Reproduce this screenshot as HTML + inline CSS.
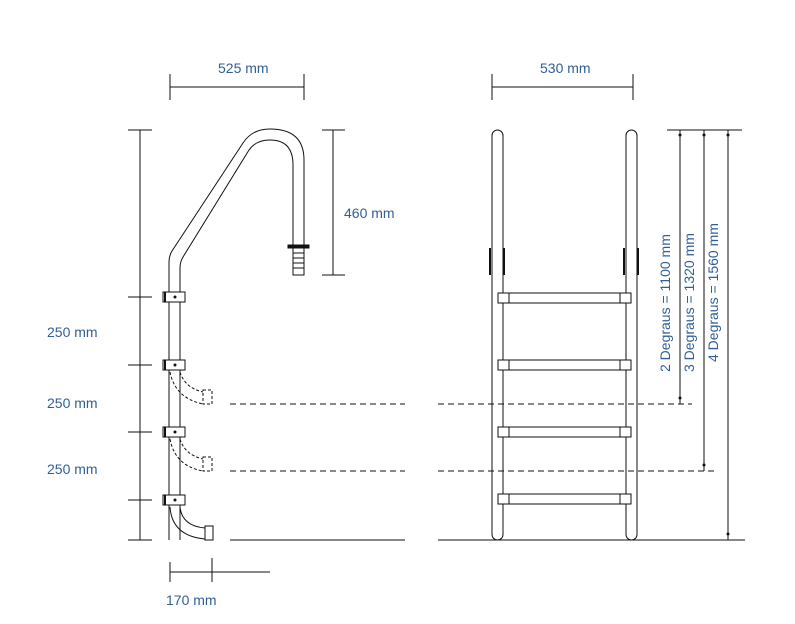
<!DOCTYPE html>
<html><head><style>
html,body{margin:0;padding:0;background:#fff;width:795px;height:624px;overflow:hidden}
svg{display:block}
text{font-family:"Liberation Sans",Arial,sans-serif;font-size:14px;fill:#2f5f96}
</style></head><body>
<svg width="795" height="624" viewBox="0 0 795 624" xmlns="http://www.w3.org/2000/svg">
<g stroke="#111" stroke-width="1" fill="none">
<!-- top dims -->
<line x1="170" y1="87" x2="304" y2="87"/><line x1="170" y1="74" x2="170" y2="100"/><line x1="304" y1="74" x2="304" y2="100"/>
<line x1="492" y1="87" x2="633" y2="87"/><line x1="492" y1="74" x2="492" y2="100"/><line x1="633" y1="74" x2="633" y2="100"/>
<!-- left vertical dim -->
<line x1="140" y1="130" x2="140" y2="540"/>
<line x1="128" y1="130" x2="152" y2="130"/><line x1="128" y1="297" x2="152" y2="297"/><line x1="128" y1="365" x2="152" y2="365"/><line x1="128" y1="432" x2="152" y2="432"/><line x1="128" y1="500" x2="152" y2="500"/><line x1="128" y1="540" x2="152" y2="540"/>
<!-- 460 dim -->
<line x1="333" y1="130" x2="333" y2="275"/><line x1="322" y1="130" x2="345" y2="130"/><line x1="322" y1="275" x2="345" y2="275"/>
<!-- handrail -->
<path d="M169 540 L169 262 Q169 256 172 251 L243 143 Q252 129 270 129 Q304 129 304 160 L304 247"/>
<path d="M180 540 L180 268 Q180 262 183 257 L249 150 Q256 140 270 140 Q293 140 293 165 L293 247"/>
<rect x="288" y="245" width="21" height="3" fill="#111"/>
<rect x="293" y="248" width="11" height="27"/>
<line x1="293" y1="253" x2="304" y2="253"/><line x1="293" y1="258" x2="304" y2="258"/><line x1="293" y1="263" x2="304" y2="263"/><line x1="293" y1="268" x2="304" y2="268"/>
<!-- brackets -->
<g fill="#fff">
<rect x="163" y="292" width="22" height="10"/><rect x="163" y="360" width="22" height="10"/><rect x="163" y="427" width="22" height="10"/><rect x="163" y="495" width="22" height="10"/>
</g>
<g fill="#111" stroke="none">
<circle cx="175" cy="297" r="1.5"/><circle cx="175" cy="365" r="1.5"/><circle cx="175" cy="432" r="1.5"/><circle cx="175" cy="500" r="1.5"/>
<rect x="164" y="292" width="2" height="10"/><rect x="164" y="360" width="2" height="10"/><rect x="164" y="427" width="2" height="10"/><rect x="164" y="495" width="2" height="10"/>
</g>
<!-- dashed steps -->
<g stroke-dasharray="3,2">
<path d="M170 372 Q175 398 203 404"/><path d="M180 372 Q185 388 203 392"/><rect x="203" y="390" width="9" height="14"/>
<path d="M170 439 Q175 466 203 471"/><path d="M180 439 Q185 455 203 459"/><rect x="203" y="457" width="9" height="14"/>
</g>
<path d="M170 507 Q172 536 205 539"/><path d="M180 507 Q182 526 205 528"/><rect x="205" y="526" width="8" height="14"/>
<!-- horizontal lines -->
<g stroke-dasharray="6,4">
<line x1="230" y1="404" x2="405" y2="404"/><line x1="438" y1="404" x2="692" y2="404"/>
<line x1="230" y1="471" x2="405" y2="471"/><line x1="438" y1="471" x2="716" y2="471"/>
</g>
<line x1="230" y1="540" x2="405" y2="540"/><line x1="438" y1="540" x2="745" y2="540"/>
<!-- 170 dim -->
<line x1="170" y1="562" x2="170" y2="582"/><line x1="212" y1="558" x2="212" y2="582"/><line x1="170" y1="572" x2="270" y2="572"/>
<!-- right view rails -->
<rect x="492" y="130" width="11" height="410" rx="5.5"/>
<rect x="626" y="130" width="11" height="410" rx="5.5"/>
<g stroke-width="2"><line x1="490" y1="248" x2="490" y2="275"/><line x1="504" y1="248" x2="504" y2="275"/><line x1="624" y1="248" x2="624" y2="275"/><line x1="638" y1="248" x2="638" y2="275"/></g>
<!-- steps -->
<g fill="#fff">
<rect x="498" y="293" width="133" height="10"/><rect x="498" y="360" width="133" height="10"/><rect x="498" y="427" width="133" height="10"/><rect x="498" y="494" width="133" height="10"/>
</g>
<line x1="509" y1="293" x2="509" y2="303"/><line x1="620" y1="293" x2="620" y2="303"/>
<line x1="509" y1="360" x2="509" y2="370"/><line x1="620" y1="360" x2="620" y2="370"/>
<line x1="509" y1="427" x2="509" y2="437"/><line x1="620" y1="427" x2="620" y2="437"/>
<line x1="509" y1="494" x2="509" y2="504"/><line x1="620" y1="494" x2="620" y2="504"/>
<!-- right dims -->
<line x1="667" y1="130" x2="742" y2="130"/>
<line x1="680" y1="130" x2="680" y2="404"/><line x1="704" y1="130" x2="704" y2="471"/><line x1="728" y1="130" x2="728" y2="540"/>
</g>
<g fill="#111">
<circle cx="680" cy="135" r="1.5"/><circle cx="704" cy="135" r="1.5"/><circle cx="728" cy="135" r="1.5"/>
<circle cx="680" cy="398" r="1.5"/><circle cx="704" cy="465" r="1.5"/><circle cx="728" cy="534" r="1.5"/>
</g>
<text x="218" y="73">525 mm</text>
<text x="540" y="73">530 mm</text>
<text x="344" y="218">460 mm</text>
<text x="47" y="337">250 mm</text>
<text x="47" y="408">250 mm</text>
<text x="47" y="474">250 mm</text>
<text x="166" y="605">170 mm</text>
<text transform="translate(670,372) rotate(-90)">2 Degraus = 1100 mm</text>
<text transform="translate(694,372) rotate(-90)">3 Degraus = 1320 mm</text>
<text transform="translate(718,362) rotate(-90)">4 Degraus = 1560 mm</text>
</svg>
</body></html>
